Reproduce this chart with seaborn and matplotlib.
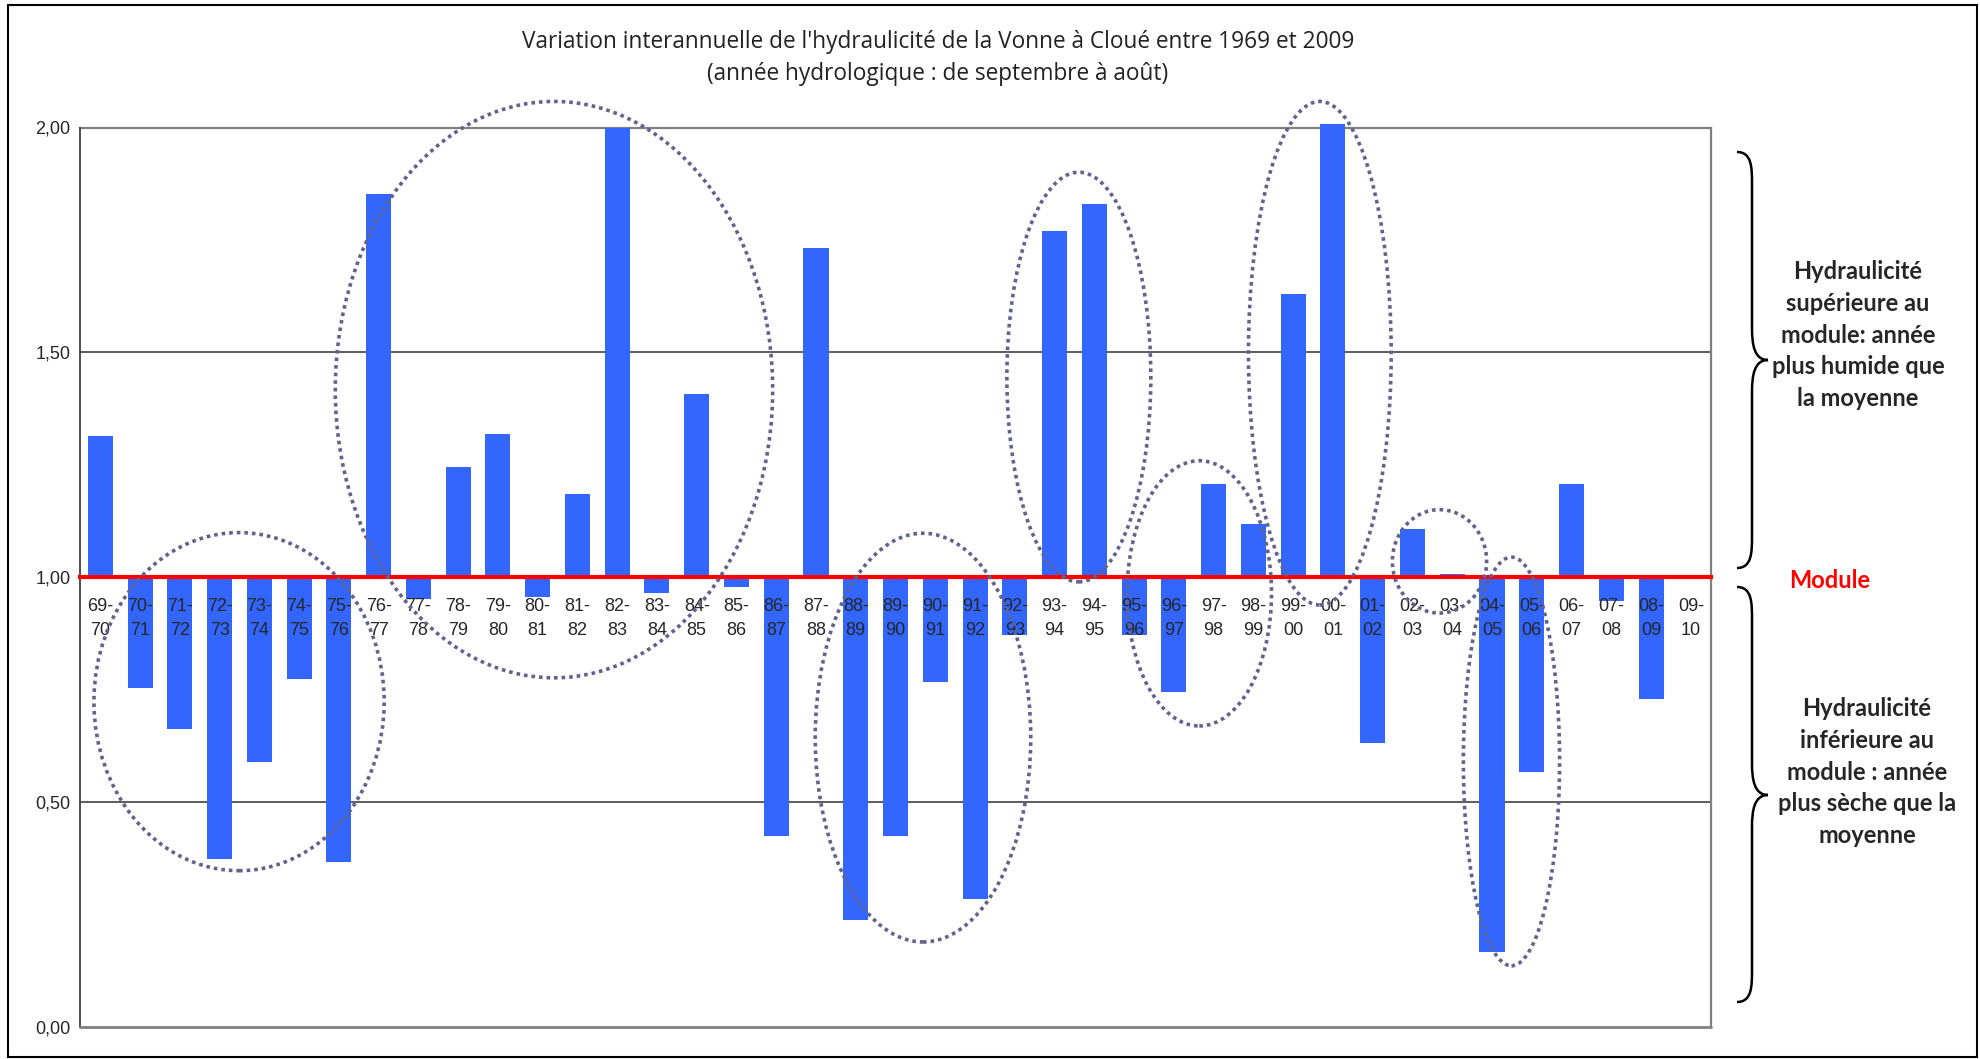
import matplotlib
matplotlib.use("Agg")
import matplotlib.pyplot as plt
import numpy as np
import pandas as pd
import seaborn as sns
from matplotlib.patches import Ellipse, PathPatch, Rectangle
from matplotlib.path import Path
from matplotlib.ticker import FuncFormatter

# années hydrologiques (septembre -> août)
seasons = [
    "69-70", "70-71", "71-72", "72-73", "73-74", "74-75", "75-76", "76-77",
    "77-78", "78-79", "79-80", "80-81", "81-82", "82-83", "83-84", "84-85",
    "85-86", "86-87", "87-88", "88-89", "89-90", "90-91", "91-92", "92-93",
    "93-94", "94-95", "95-96", "96-97", "97-98", "98-99", "99-00", "00-01",
    "01-02", "02-03", "03-04", "04-05", "05-06", "06-07", "07-08", "08-09",
    "09-10",
]
hydraulicite = [
    1.313, 0.753, 0.663, 0.374, 0.588, 0.773, 0.367, 1.852,
    0.951, 1.244, 1.318, 0.955, 1.184, 2.000, 0.964, 1.407,
    0.978, 0.425, 1.732, 0.238, 0.425, 0.766, 0.283, 0.871,
    1.770, 1.830, 0.871, 0.744, 1.206, 1.117, 1.630, 2.008,
    0.630, 1.108, 1.006, 0.167, 0.566, 1.206, 0.947, 0.728,
    np.nan,
]
module = 1.0
y_ticks = [0.0, 0.5, 1.0, 1.5, 2.0]

# groupes entourés : (centre x en rang de catégorie, centre y, largeur, hauteur)
groups_x = [3.49, 11.41, 20.69, 24.61, 27.64, 30.67, 33.68, 35.49]
groups_y = [0.723, 1.417, 0.643, 1.445, 0.964, 1.498, 1.035, 0.590]
groups_w = [7.30, 11.00, 5.42, 3.62, 3.63, 3.59, 2.37, 2.42]
groups_h = [0.752, 1.282, 0.909, 0.911, 0.590, 1.120, 0.230, 0.909]

title = ("Variation interannuelle de l'hydraulicité de la Vonne à Cloué entre 1969 et 2009\n"
         "(année hydrologique : de septembre à août)")
note_high = "Hydraulicité\nsupérieure au\nmodule: année\nplus humide que\nla moyenne"
note_low = "Hydraulicité\ninférieure au\nmodule : année\nplus sèche que la\nmoyenne"

BLUE = "#3366FF"
ELLIPSE = "#62628F"

sns.set_style("white")
plt.rcParams["font.family"] = ["Liberation Sans", "DejaVu Sans"]

W, H = 1980, 1059
fig = plt.figure(figsize=(W / 100, H / 100), dpi=100)
ax = fig.add_axes([80.4 / W, 1 - 1026.7 / H, (1710.7 - 80.4) / W, (1026.7 - 127.5) / H])

df = pd.DataFrame({"saison": seasons, "ecart": np.array(hydraulicite) - module})

sns.barplot(
    data=df, x="saison", y="ecart", order=seasons,
    color=BLUE, saturation=1, width=0.63, errorbar=None,
    bottom=module, ax=ax, zorder=1.5,
)
for p in ax.patches:
    p.set_clip_on(False)
    p.set_edgecolor("none")

ax.set_xlim(-0.5, len(seasons) - 0.5)
ax.set_ylim(0, 2)
ax.set_xlabel("")
ax.set_ylabel("")

# lignes horizontales sous les barres, étiquettes au-dessus
ax.set_axisbelow(False)
for v in y_ticks[1:-1]:
    ax.axhline(v, color="#303030", lw=1.1, zorder=0.5)

# axe des abscisses placé sur le module
ax.spines["bottom"].set_position(("data", module))
ax.spines["bottom"].set_color("red")
ax.spines["bottom"].set_linewidth(3)
ax.spines["bottom"].set_zorder(5)
ax.spines["top"].set_color("#808080")
ax.spines["top"].set_linewidth(1.6)
ax.spines["top"].set_zorder(1)
ax.spines["right"].set_color("#808080")
ax.spines["right"].set_linewidth(1.6)
ax.spines["left"].set_color("#404040")
ax.spines["left"].set_linewidth(1.3)
ax.axhline(0, color="#808080", lw=2, clip_on=False, zorder=4)

ax.set_xticks(range(len(seasons)))
ax.set_xticklabels([s.replace("-", "-\n") for s in seasons], linespacing=1.55)
ax.set_xticks(np.arange(-0.5, len(seasons), 1), minor=True)
ax.tick_params(axis="x", which="major", length=0, pad=15, labelsize=13)
ax.tick_params(axis="x", which="minor", length=5, width=2.2, color="red", direction="out")

ax.set_yticks(y_ticks)
ax.yaxis.set_major_formatter(FuncFormatter(lambda v, _: f"{v:.2f}".replace(".", ",")))
ax.tick_params(axis="y", length=4, width=1.2, color="#404040", labelsize=13, pad=3)

for gx, gy, gw, gh in zip(groups_x, groups_y, groups_w, groups_h):
    ax.add_patch(Ellipse((gx, gy), gw, gh, fill=False, edgecolor=ELLIPSE,
                         lw=2.6, linestyle=(0, (1, 1.1)), clip_on=False, zorder=6))

fig.text(938 / W, 1 - 58 / H, title, ha="center", va="center", fontsize=16.3,
         family=["Open Sans", "DejaVu Sans"], linespacing=1.4, color="#222222")


def brace(y_top, y_mid, y_bot, x_left=1737, x_line=1752, x_tip=1768, r=16):
    to_fig = lambda x, y: (x / W, 1 - y / H)
    pts = [
        (x_left, y_top), (x_line, y_top), (x_line, y_top + r), (x_line, y_top + 2 * r),
        (x_line, y_mid - 2 * r),
        (x_line, y_mid - r), (x_line + 2, y_mid), (x_tip, y_mid),
        (x_line + 2, y_mid), (x_line, y_mid + r), (x_line, y_mid + 2 * r),
        (x_line, y_bot - 2 * r),
        (x_line, y_bot - r), (x_line, y_bot), (x_left, y_bot),
    ]
    codes = ([Path.MOVETO] + [Path.CURVE4] * 3 + [Path.LINETO] + [Path.CURVE4] * 6
             + [Path.LINETO] + [Path.CURVE4] * 3)
    path = Path([to_fig(*p) for p in pts], codes)
    fig.add_artist(PathPatch(path, fill=False, lw=1.8, edgecolor="black",
                             transform=fig.transFigure))


brace(152, 360, 568)
brace(587, 795, 1002)

note_font = dict(fontsize=17, fontweight="bold", family=["Lato", "DejaVu Sans"])
fig.text(1858 / W, 1 - 335 / H, note_high, ha="center", va="center",
         linespacing=1.45, **note_font)
fig.text(1867 / W, 1 - 772 / H, note_low, ha="center", va="center",
         linespacing=1.45, **note_font)
fig.text(1830 / W, 1 - 581 / H, "Module", ha="center", va="center",
         color="#FF0000", **note_font)

fig.add_artist(Rectangle((8 / W, 2 / H), (1977 - 8) / W, (1054 - 2) / H, fill=False,
                         lw=1.5, edgecolor="black", transform=fig.transFigure))

fig.savefig("out.png", dpi=100)
